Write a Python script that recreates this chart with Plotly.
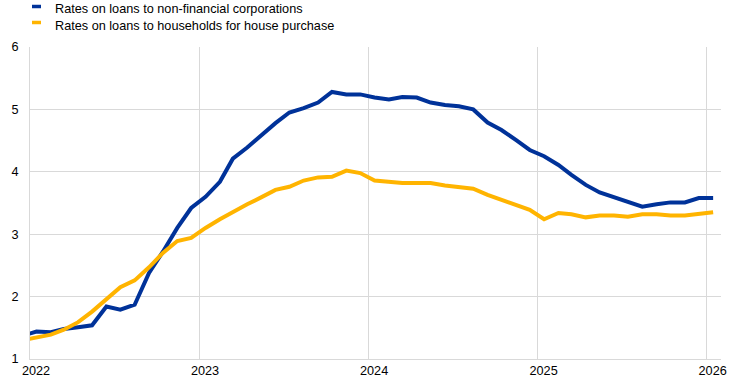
import pandas as pd
import plotly.graph_objects as go

# Monthly observations, Dec 2021 to Jan 2026 (plotted mid-month)
month_start = "2021-12-01"
n_months = 50

nfc_rates = [1.37, 1.44, 1.43, 1.48, 1.51, 1.54, 1.84, 1.79, 1.87, 2.38,
             2.72, 3.10, 3.42, 3.60, 3.84, 4.21, 4.39, 4.59, 4.78, 4.95,
             5.02, 5.11, 5.28, 5.24, 5.24, 5.19, 5.16, 5.20, 5.19, 5.11,
             5.07, 5.05, 5.00, 4.79, 4.67, 4.51, 4.35, 4.25, 4.11, 3.95,
             3.79, 3.67, 3.59, 3.51, 3.44, 3.48, 3.51, 3.51, 3.58, 3.58]

house_rates = [1.30, 1.34, 1.39, 1.47, 1.59, 1.76, 1.96, 2.15, 2.26, 2.47,
               2.70, 2.89, 2.94, 3.10, 3.24, 3.36, 3.48, 3.59, 3.71, 3.76,
               3.86, 3.91, 3.92, 4.02, 3.98, 3.86, 3.84, 3.82, 3.82, 3.82,
               3.78, 3.75, 3.73, 3.63, 3.55, 3.47, 3.39, 3.24, 3.34, 3.32,
               3.27, 3.30, 3.30, 3.28, 3.32, 3.32, 3.30, 3.30, 3.32, 3.35]

series_names = ["Rates on loans to non-financial corporations",
                "Rates on loans to households for house purchase"]
series_colors = ["#003299", "#ffb400"]

year_ticks = ["2022-01-01", "2023-01-01", "2024-01-01", "2025-01-01", "2026-01-01"]
year_labels = ["2022", "2023", "2024", "2025", "2026"]
y_ticks = [1, 2, 3, 4, 5, 6]

dates = pd.date_range(month_start, periods=n_months, freq="MS") + pd.Timedelta(days=14)

FONT = "Liberation Sans, Arial, sans-serif"
FS = 12.7
GRID = "#d9d9d9"

fig = go.Figure()
for vals, name, col in zip([nfc_rates, house_rates], series_names, series_colors):
    fig.add_trace(go.Scatter(x=dates, y=vals, mode="lines", name=name,
                             line=dict(color=col, width=4), showlegend=False,
                             hoverinfo="skip"))

# manual legend
shapes = []
annotations = []
legend_rows = [(40.5, 38.0), (24.5, 21.0)]
for (bar_c, txt_c), name, col in zip(legend_rows, series_names, series_colors):
    shapes.append(dict(type="rect", xref="paper", yref="paper",
                       xsizemode="pixel", ysizemode="pixel",
                       xanchor=0, yanchor=1, x0=2, x1=11,
                       y0=bar_c - 1.75, y1=bar_c + 1.75,
                       fillcolor=col, line=dict(width=0)))
    annotations.append(dict(text=name, xref="paper", yref="paper", x=0, y=1,
                            xanchor="left", yanchor="middle", xshift=23, yshift=txt_c,
                            showarrow=False, font=dict(family=FONT, size=FS, color="#000000")))

fig.update_layout(
    width=744, height=384,
    margin=dict(l=30, r=23, t=47, b=25, autoexpand=False),
    paper_bgcolor="white", plot_bgcolor="white",
    font=dict(family=FONT, size=FS, color="#000000"),
    shapes=shapes, annotations=annotations,
    xaxis=dict(type="date", range=["2022-01-01", "2026-02-01"],
               tickvals=year_ticks, ticktext=year_labels, ticklabelshift=6,
               showgrid=True, gridcolor=GRID, gridwidth=1, automargin=False,
               showline=True, linecolor=GRID, linewidth=1, ticks="",
               tickfont=dict(family=FONT, size=FS, color="#000000")),
    yaxis=dict(range=[1, 6], tickvals=y_ticks, showgrid=True, gridcolor=GRID, gridwidth=1,
               showline=True, linecolor=GRID, linewidth=1, ticks="", zeroline=False,
               ticklabelstandoff=8, automargin=False,
               tickfont=dict(family=FONT, size=FS, color="#000000")),
)

fig.write_html("out.html", config={"displayModeBar": False},
               post_script="document.body.style.margin='0';document.body.style.overflow='hidden';")
